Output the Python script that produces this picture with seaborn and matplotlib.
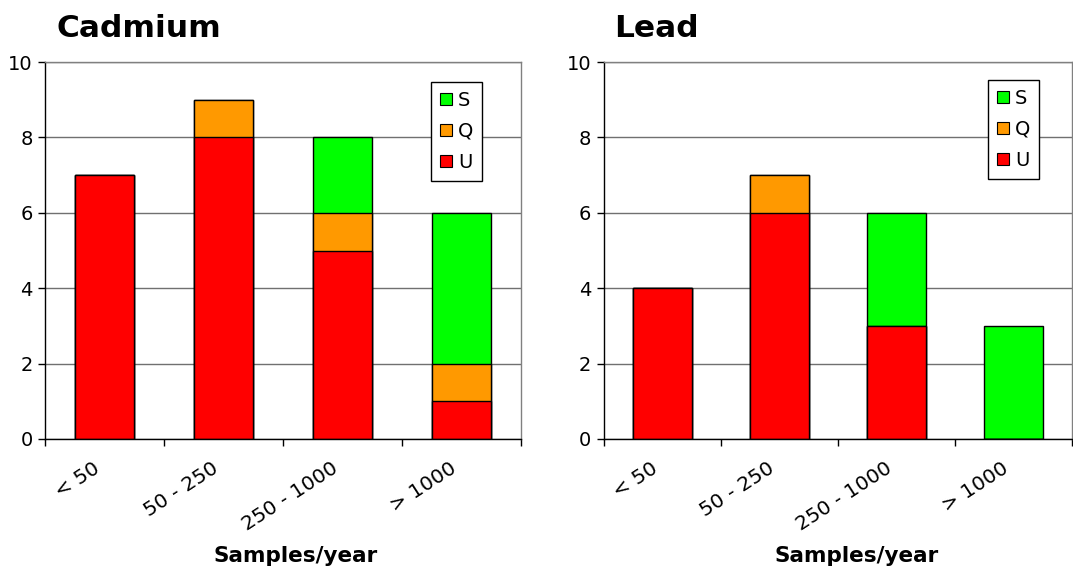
import matplotlib
matplotlib.use("Agg")
import matplotlib.pyplot as plt
import seaborn as sns
import pandas as pd
from matplotlib.patches import Patch

categories = ["< 50", "50 - 250", "250 - 1000", "> 1000"]
cd_U = [7, 8, 5, 1]
cd_Q = [0, 1, 1, 1]
cd_S = [0, 0, 2, 4]
pb_U = [4, 6, 3, 0]
pb_Q = [0, 1, 0, 0]
pb_S = [0, 0, 3, 3]
yticks = [0, 2, 4, 6, 8, 10]
series = ["S", "Q", "U"]
colors = {"S": "#00FF00", "Q": "#FF9900", "U": "#FF0000"}

sns.set_style("white")
plt.rcParams['font.family'] = ['DejaVu Sans']
plt.rcParams['text.color'] = 'black'
plt.rcParams['xtick.color'] = 'black'
plt.rcParams['ytick.color'] = 'black'
plt.rcParams['axes.labelcolor'] = 'black'

W, H = 1073, 568
fig = plt.figure(figsize=(W / 100, H / 100), dpi=100)
ax1 = fig.add_axes([45 / W, 1 - 439 / H, 476 / W, 377 / H])
ax2 = fig.add_axes([604 / W, 1 - 439 / H, 468 / W, 377 / H])


def draw(ax, U, Q, S, anchor):
    df = pd.DataFrame({"cat": categories, "U": U, "Q": Q, "S": S})
    df["UQ"] = df["U"] + df["Q"]
    df["UQS"] = df["UQ"] + df["S"]
    for col, s in [("UQS", "S"), ("UQ", "Q"), ("U", "U")]:
        sns.barplot(data=df, x="cat", y=col, order=categories, color=colors[s],
                    saturation=1, edgecolor="black", linewidth=1, width=0.5,
                    errorbar=None, ax=ax)
    ax.set_xlim(-0.5, 3.5)
    ax.set_ylim(0, 10)
    ax.set_yticks(yticks)
    ax.set_yticklabels([str(v) for v in yticks], fontsize=14)
    ax.set_xticks([-0.5, 0.5, 1.5, 2.5, 3.5])
    ax.set_xticklabels([])
    # label anchors sit slightly left of the category centres (invisible minor ticks)
    ax.set_xticks([i - 0.1 for i in range(len(categories))], minor=True)
    ax.set_xticklabels(categories, minor=True, rotation=33, ha="right",
                       va="top", rotation_mode="anchor", fontsize=14.5)
    ax.tick_params(axis="x", which="minor", length=0, pad=14)
    ax.tick_params(axis="both", which="major", direction="out", length=5,
                   width=1, color="black", left=True, bottom=True)
    ax.tick_params(axis="y", pad=4)
    ax.set_xlabel("")
    ax.set_ylabel("")
    ax.set_axisbelow(True)
    ax.yaxis.grid(True, color="#707070", linewidth=1)
    for side in ["left", "bottom"]:
        ax.spines[side].set_color("black")
        ax.spines[side].set_linewidth(1)
    for side in ["top", "right"]:
        ax.spines[side].set_visible(True)
        ax.spines[side].set_color("#808080")
        ax.spines[side].set_linewidth(1)
    handles = [Patch(facecolor=colors[s], edgecolor="black", linewidth=0.8) for s in series]
    leg = ax.legend(handles, series, loc="upper right", bbox_to_anchor=anchor,
                    fontsize=14, frameon=True, fancybox=False, framealpha=1,
                    edgecolor="black", handlelength=0.6, handleheight=0.6,
                    handletextpad=0.32, borderpad=0.45, labelspacing=0.62,
                    borderaxespad=0)
    leg.get_frame().set_linewidth(1)


draw(ax1, cd_U, cd_Q, cd_S, ((482 - 45) / 476, (439 - 82) / 377))
draw(ax2, pb_U, pb_Q, pb_S, ((1039 - 604) / 468, (439 - 80) / 377))

fig.text(56 / W, 1 - 37 / H, "Cadmium", fontsize=22.5, fontweight="bold", ha="left", va="baseline")
fig.text(614 / W, 1 - 37 / H, "Lead", fontsize=22.5, fontweight="bold", ha="left", va="baseline")
fig.text(296 / W, 1 - 562 / H, "Samples/year", fontsize=15.5, fontweight="bold", ha="center", va="baseline")
fig.text(857 / W, 1 - 562 / H, "Samples/year", fontsize=15.5, fontweight="bold", ha="center", va="baseline")

fig.savefig("out.png", dpi=100)
